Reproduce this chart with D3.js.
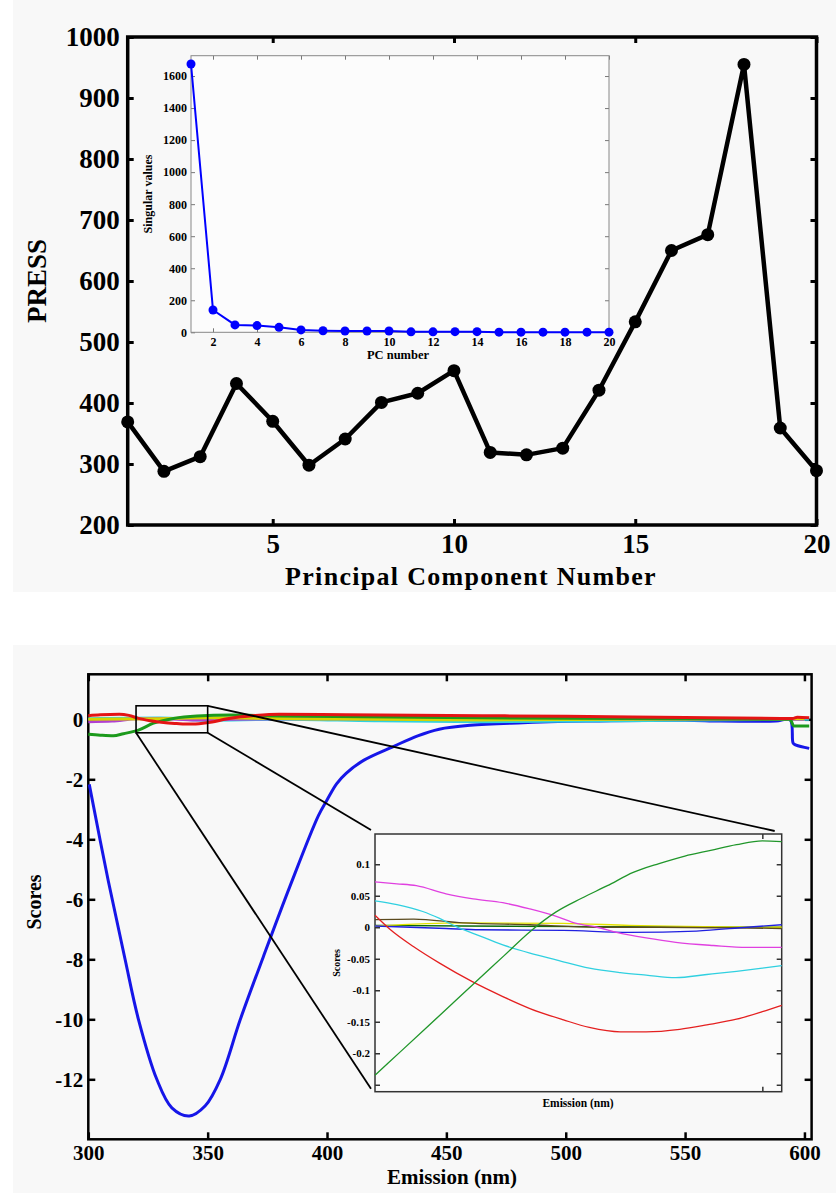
<!DOCTYPE html>
<html>
<head>
<meta charset="utf-8">
<script src="https://cdn.jsdelivr.net/npm/d3@7"></script>
<style>
  html, body { margin: 0; padding: 0; background: #ffffff; }
  svg { display: block; }
</style>
</head>
<body>
<svg id="fig" width="839" height="1193"></svg>
<script>
// ---------- PRESS vs number of principal components ----------
const pcNumbers = d3.range(1, 21);
const pressValues = [369, 288, 312, 432, 370, 298, 341, 401, 416, 453,
                     319, 315, 326, 421, 533, 650, 676, 955, 359, 289];
const pressTicks = [200, 300, 400, 500, 600, 700, 800, 900, 1000];
const pcTicks = [5, 10, 15, 20];

// ---------- singular values (inset) ----------
const singularValues = [1675, 139, 46, 42, 31, 15, 10, 8, 8, 8,
                        3, 3, 4, 4, 1, 1, 1, 1, 1, 1];
const svTicks = [0, 200, 400, 600, 800, 1000, 1200, 1400, 1600];
const svPcTicks = [2, 4, 6, 8, 10, 12, 14, 16, 18, 20];

// ---------- score curves across the emission range ----------
const scoreTicks = [0, -2, -4, -6, -8, -10, -12];
const emissionTicks = [300, 350, 400, 450, 500, 550, 600];

const pc1Wl  = [300.4, 308.4, 315.4, 321, 328.7, 335, 342.3, 349, 355.3, 363.7,
                373.3, 384.5, 396.4, 400, 404, 408, 415.5, 428, 438, 447, 460, 480,
                508.5, 550, 565, 588, 594, 595.3, 596.5, 602];
const pc1Val = [-2.17, -5.4, -8.0, -10.0, -12.0, -12.95, -13.22, -12.88, -12.0, -10.0,
                -7.92, -5.56, -3.21, -2.69, -2.15, -1.8, -1.36, -0.9, -0.55, -0.33, -0.2, -0.12,
                -0.06, -0.03, -0.06, -0.06, -0.02, -0.8, -0.86, -0.97];

const pc2Wl  = [300, 305, 310.5, 314.7, 321, 327.3, 335.7, 345.5, 359.5, 380, 465, 550, 594, 595.5, 602];
const pc2Val = [-0.5, -0.53, -0.55, -0.48, -0.36, -0.13, 0.03, 0.11, 0.14, 0.11, 0.05, 0.02, 0.0, -0.22, -0.22];

const pc3Wl  = [300, 330, 350, 400, 465, 600];
const pc3Val = [0.0, 0.02, 0.05, 0.01, -0.02, 0.02];

const pc4Wl  = [300, 330, 350, 380, 420, 465, 520, 560, 602];
const pc4Val = [0.02, 0.04, -0.03, 0.0, -0.05, -0.08, -0.05, -0.02, 0.0];

const pc5Wl  = [300, 310, 320, 330, 345, 360, 400, 600];
const pc5Val = [-0.08, -0.06, 0.02, 0.03, -0.02, 0.0, 0.02, 0.0];

const pc6Wl  = [300, 305, 313, 317, 321, 326, 331.5, 337, 342.7, 348, 352.5, 357,
                362.3, 370, 380, 408, 465, 500, 550, 590, 595, 597, 602];
const pc6Val = [0.12, 0.15, 0.17, 0.13, 0.03, -0.05, -0.11, -0.14, -0.16, -0.13, -0.08, 0.0,
                0.07, 0.13, 0.17, 0.15, 0.12, 0.1, 0.06, 0.03, 0.03, 0.07, 0.05];

// ---------- magnified window 320-351.5 nm ----------
const zoomScoreTicks = [-0.25, -0.2, -0.15, -0.1, -0.05, 0, 0.05, 0.1];
const zoomScoreLabels = [-0.2, -0.15, -0.1, -0.05, 0, 0.05, 0.1];
const zoomWlTicks = [350];

const zGreenWl  = [320, 322, 324, 326, 328, 330, 332, 334, 336, 338, 340, 342, 344, 346, 348, 350, 351.5];
const zGreenVal = [-0.235, -0.197, -0.159, -0.121, -0.083, -0.045, -0.007, 0.024, 0.046, 0.066,
                   0.087, 0.101, 0.113, 0.122, 0.131, 0.137, 0.136];
const zMagentaWl  = [320, 321.7, 323.2, 325.5, 327.6, 329.9, 332, 334.1, 335.6, 337.2, 338.7, 341, 343.3, 346.2, 348.8, 351.5];
const zMagentaVal = [0.072, 0.069, 0.066, 0.053, 0.045, 0.039, 0.029, 0.017, 0.006, 0.0, -0.008, -0.017, -0.024, -0.029, -0.032, -0.032];
const zCyanWl  = [320, 321.7, 323.7, 325, 326.3, 327.9, 329.9, 332, 334.1, 336.6, 339, 341, 343.3, 345.7, 348, 350, 351.5];
const zCyanVal = [0.042, 0.036, 0.025, 0.014, 0.001, -0.012, -0.028, -0.041, -0.052, -0.065, -0.072, -0.076, -0.08, -0.075, -0.07, -0.065, -0.061];
const zRedWl  = [320, 321.2, 323, 325, 327.5, 329.9, 332, 334.6, 336.6, 339, 341, 343.6, 345.7, 348, 350, 351.5];
const zRedVal = [0.019, -0.004, -0.031, -0.057, -0.086, -0.11, -0.129, -0.147, -0.159, -0.166, -0.166, -0.162, -0.155, -0.146, -0.134, -0.124];
const zOliveWl  = [320, 323, 326.8, 332, 337.2, 342, 351.5];
const zOliveVal = [0.012, 0.013, 0.007, 0.004, 0.0, 0.0, -0.002];
const zYellowWl  = [320, 326.8, 334.6, 339.7, 351.5];
const zYellowVal = [0.002, 0.007, 0.006, 0.003, 0.0];
const zBlueWl  = [320, 325.5, 328.1, 334.6, 339.7, 344.9, 348.8, 351.5];
const zBlueVal = [0.002, -0.002, -0.004, -0.005, -0.008, -0.006, 0.0, 0.004];
const zDarkGreenWl  = [320, 326.8, 337.2, 351.5];
const zDarkGreenVal = [0.003, 0.002, 0.001, 0.0];

// ================= drawing =================
const FONT = "'Liberation Serif', 'Times New Roman', serif";
const svg = d3.select("#fig");
const zip = (xs, ys) => xs.map((v, i) => [v, ys[i]]);

// light page panels behind each figure
svg.append("rect").attr("x", 13).attr("y", 0).attr("width", 823).attr("height", 592).attr("fill", "#f8f8f8");
svg.append("rect").attr("x", 13).attr("y", 645).attr("width", 823).attr("height", 548).attr("fill", "#f8f8f8");

// Draw a framed axes box with inward ticks on all four sides.
function frame(g, x, y, o) {
  const [x0, x1] = x.range();
  const [y0, y1] = y.range(); // y0 bottom, y1 top
  const style = (sel, size) => {
    sel.attr("font-family", FONT).attr("font-weight", "bold").attr("font-size", size);
    sel.select(".domain").remove();
    sel.selectAll(".tick line").attr("stroke", o.tickColor || "#000").attr("stroke-width", o.tickWidth);
    sel.selectAll(".tick text").attr("fill", "#000");
  };
  const fmtX = o.xFormat || (d => d);
  const fmtY = o.yFormat || (d => d);
  g.append("g").attr("transform", `translate(0,${y0})`)
    .call(d3.axisBottom(x).tickValues(o.xTicks).tickSize(-o.tick).tickPadding(o.xPad).tickFormat(fmtX))
    .call(s => style(s, o.fontSize));
  g.append("g").attr("transform", `translate(0,${y1})`)
    .call(d3.axisTop(x).tickValues(o.xTicks).tickSize(-o.tick).tickFormat(""))
    .call(s => style(s, o.fontSize));
  g.append("g").attr("transform", `translate(${x0},0)`)
    .call(d3.axisLeft(y).tickValues(o.yTicks).tickSize(-o.tick).tickPadding(o.yPad).tickFormat(fmtY))
    .call(s => style(s, o.fontSize));
  g.append("g").attr("transform", `translate(${x1},0)`)
    .call(d3.axisRight(y).tickValues(o.yTicks).tickSize(-o.tick).tickFormat(""))
    .call(s => style(s, o.fontSize));
  g.append("rect")
    .attr("x", x0).attr("y", y1).attr("width", x1 - x0).attr("height", y0 - y1)
    .attr("fill", "none").attr("stroke", o.frameColor || "#000").attr("stroke-width", o.frameWidth);
}

// ---------------- top figure: PRESS ----------------
{
  const g = svg.append("g");
  const x = d3.scaleLinear().domain([1, 20]).range([127.7, 816.5]);
  const y = d3.scaleLinear().domain([200, 1000]).range([525, 37]);

  // inset (drawn first so the main frame stays on top)
  const xi = d3.scaleLinear().domain([1, 20]).range([191, 609]);
  const yi = d3.scaleLinear().domain([0, 1727]).range([332.3, 55.7]);
  const gi = g.append("g");
  gi.append("rect").attr("x", 191).attr("y", 55.7).attr("width", 418).attr("height", 276.6).attr("fill", "#fcfcfc");
  frame(gi, xi, yi, {
    xTicks: svPcTicks, yTicks: svTicks, tick: 4, tickWidth: 1, tickColor: "#777",
    fontSize: 12, xPad: 5, yPad: 4, frameColor: "#888", frameWidth: 1
  });
  gi.append("path").datum(zip(pcNumbers, singularValues))
    .attr("fill", "none").attr("stroke", "#0000ff").attr("stroke-width", 2)
    .attr("d", d3.line().x(d => xi(d[0])).y(d => yi(d[1])));
  gi.selectAll("circle").data(zip(pcNumbers, singularValues)).join("circle")
    .attr("cx", d => xi(d[0])).attr("cy", d => yi(d[1])).attr("r", 4.5).attr("fill", "#0000ff");
  gi.append("text").attr("x", 398).attr("y", 356).attr("text-anchor", "middle").attr("dominant-baseline", "middle")
    .attr("font-family", FONT).attr("font-weight", "bold").attr("font-size", 12.5).text("PC number");
  gi.append("text").attr("transform", "translate(149,194) rotate(-90)").attr("text-anchor", "middle")
    .attr("dominant-baseline", "middle")
    .attr("font-family", FONT).attr("font-weight", "bold").attr("font-size", 12).text("Singular values");

  frame(g, x, y, {
    xTicks: pcTicks, yTicks: pressTicks, tick: 6, tickWidth: 3,
    fontSize: 27, xPad: 9, yPad: 8, frameWidth: 3.5
  });

  g.append("path").datum(zip(pcNumbers, pressValues))
    .attr("fill", "none").attr("stroke", "#000").attr("stroke-width", 4.5).attr("stroke-linejoin", "round")
    .attr("d", d3.line().x(d => x(d[0])).y(d => y(d[1])));
  g.append("g").selectAll("circle").data(zip(pcNumbers, pressValues)).join("circle")
    .attr("cx", d => x(d[0])).attr("cy", d => y(d[1])).attr("r", 6.5).attr("fill", "#000");

  g.append("text").attr("transform", "translate(40,281) rotate(-90)").attr("text-anchor", "middle")
    .attr("dominant-baseline", "middle")
    .attr("font-family", FONT).attr("font-weight", "bold").attr("font-size", 27).text("PRESS");
  g.append("text").attr("x", 471).attr("y", 579).attr("text-anchor", "middle").attr("dominant-baseline", "middle")
    .attr("font-family", FONT).attr("font-weight", "bold").attr("font-size", 26).attr("letter-spacing", 1.3)
    .text("Principal Component Number");
}

// ---------------- bottom figure: scores ----------------
{
  const g = svg.append("g");
  const x = d3.scaleLinear().domain([300, 603]).range([88.3, 811.6]);
  const y = d3.scaleLinear().domain([-14, 1.5]).range([1139.3, 674.3]);

  frame(g, x, y, {
    xTicks: emissionTicks, yTicks: scoreTicks, tick: 7, tickWidth: 2.5,
    fontSize: 21, xPad: 6, yPad: 5, frameWidth: 2.5
  });

  // the large first component is smoothed with Catmull-Rom, the small ones stay monotone
  const smoothLine = d3.line().curve(d3.curveCatmullRom.alpha(0.5)).x(d => x(d[0])).y(d => y(d[1]));
  const monoLine = d3.line().curve(d3.curveMonotoneX).x(d => x(d[0])).y(d => y(d[1]));
  const curves = [
    [pc1Wl, pc1Val, "#1616e8", smoothLine],
    [pc4Wl, pc4Val, "#2ed2e0", monoLine],
    [pc5Wl, pc5Val, "#b040d0", monoLine],
    [pc3Wl, pc3Val, "#d4d400", monoLine],
    [pc2Wl, pc2Val, "#1c9a1c", monoLine],
    [pc6Wl, pc6Val, "#e41414", monoLine]
  ];
  curves.forEach(([wl, v, c, gen]) => {
    g.append("path").datum(zip(wl, v)).attr("fill", "none").attr("stroke", c)
      .attr("stroke-width", 3).attr("stroke-linejoin", "round").attr("d", gen);
  });

  // magnified window marker and leader lines
  const bx0 = x(320), bx1 = x(350), by0 = y(0.45), by1 = y(-0.45);
  const iL = 375, iR = 781.7, iT = 834, iB = 1091.7;
  g.append("rect").attr("x", bx0).attr("y", by0).attr("width", bx1 - bx0).attr("height", by1 - by0)
    .attr("fill", "none").attr("stroke", "#000").attr("stroke-width", 1.6);
  const leaders = [
    [[bx1, by0], [iR - 7, iT - 3]],
    [[bx1, by1], [iL - 4, iT - 4]],
    [[bx0, by1], [iL - 4, iB - 3]]
  ];
  leaders.forEach(([a, b]) => {
    g.append("line").attr("x1", a[0]).attr("y1", a[1]).attr("x2", b[0]).attr("y2", b[1])
      .attr("stroke", "#000").attr("stroke-width", 1.8);
  });

  // inset axes
  const gi = g.append("g");
  gi.append("rect").attr("x", iL).attr("y", iT).attr("width", iR - iL).attr("height", iB - iT).attr("fill", "#fbfbfb");
  const xi = d3.scaleLinear().domain([320, 351.5]).range([iL, iR]);
  const yi = d3.scaleLinear().domain([-0.261, 0.148]).range([iB, iT]);
  const fmtInset = d => zoomScoreLabels.some(v => Math.abs(v - d) < 1e-9) ? String(d) : "";
  frame(gi, xi, yi, {
    xTicks: zoomWlTicks, yTicks: zoomScoreTicks, tick: 5, tickWidth: 1.5, tickColor: "#333",
    fontSize: 11, xPad: 5, yPad: 5, frameColor: "#333", frameWidth: 1.5,
    xFormat: () => "", yFormat: fmtInset
  });
  const lineI = d3.line().curve(d3.curveMonotoneX).x(d => xi(d[0])).y(d => yi(d[1]));
  const zCurves = [
    [zDarkGreenWl, zDarkGreenVal, "#0a6a0a"],
    [zYellowWl, zYellowVal, "#e2e200"],
    [zOliveWl, zOliveVal, "#5a4a1e"],
    [zBlueWl, zBlueVal, "#2020e0"],
    [zMagentaWl, zMagentaVal, "#e040e0"],
    [zCyanWl, zCyanVal, "#30d0e0"],
    [zRedWl, zRedVal, "#e42020"],
    [zGreenWl, zGreenVal, "#20962a"]
  ];
  zCurves.forEach(([wl, v, c]) => {
    gi.append("path").datum(zip(wl, v)).attr("fill", "none").attr("stroke", c)
      .attr("stroke-width", 1.3).attr("d", lineI);
  });
  gi.append("text").attr("x", 578).attr("y", 1104).attr("text-anchor", "middle").attr("dominant-baseline", "middle")
    .attr("font-family", FONT).attr("font-weight", "bold").attr("font-size", 11.5).text("Emission (nm)");
  gi.append("text").attr("transform", "translate(338,963) rotate(-90)").attr("text-anchor", "middle")
    .attr("dominant-baseline", "middle")
    .attr("font-family", FONT).attr("font-weight", "bold").attr("font-size", 10).text("Scores");

  g.append("text").attr("transform", "translate(36,902) rotate(-90)").attr("text-anchor", "middle")
    .attr("dominant-baseline", "middle")
    .attr("font-family", FONT).attr("font-weight", "bold").attr("font-size", 20).text("Scores");
  g.append("text").attr("x", 452).attr("y", 1179).attr("text-anchor", "middle").attr("dominant-baseline", "middle")
    .attr("font-family", FONT).attr("font-weight", "bold").attr("font-size", 21).text("Emission (nm)");
}
</script>
</body>
</html>
